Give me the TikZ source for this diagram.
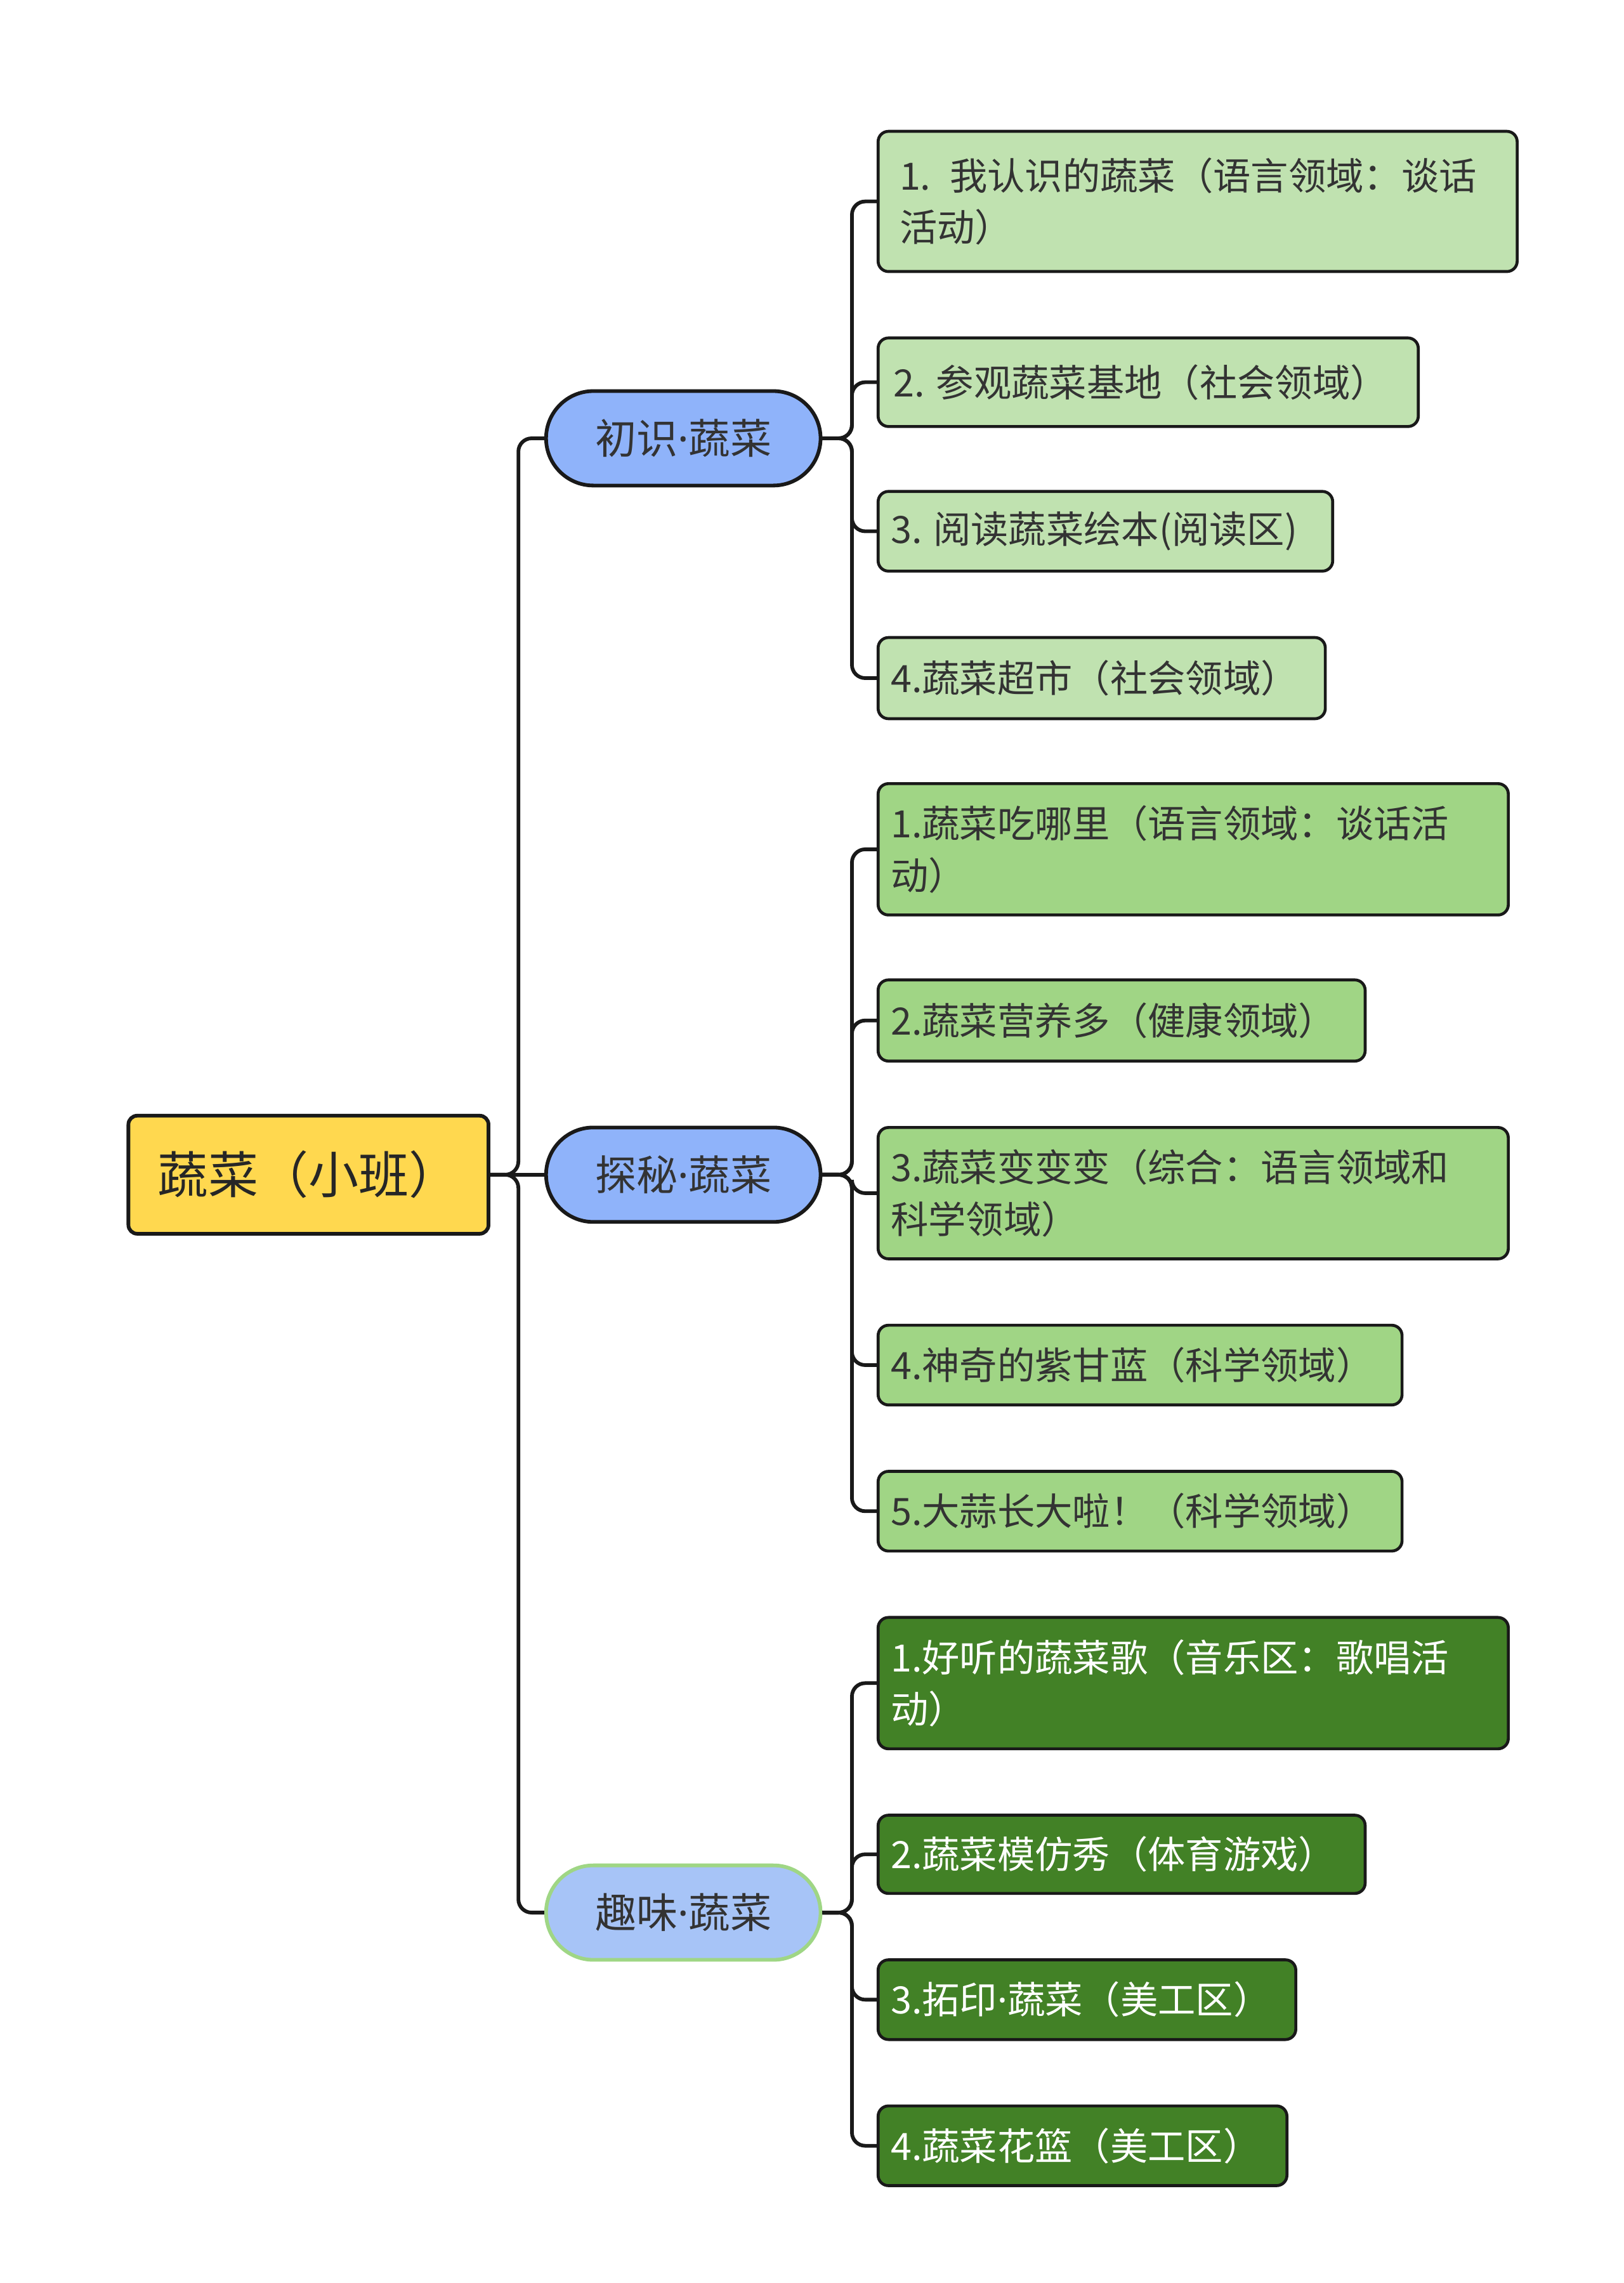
\documentclass[tikz,border=0pt]{standalone}
\usepackage{fontspec}
\setmainfont{Noto Sans CJK SC}
\newfontfamily\latf{Noto Sans}
\newcommand{\md}{{\latf ·}}
\begin{document}
\begin{tikzpicture}[x=1pt,y=-1pt,
  base/.style={draw=black!90,line width=2pt,rounded corners=7pt,anchor=north west,inner sep=0pt},
  la/.style={base,fill=lg1},
  lb/.style={base,fill=lg2},
  lc/.style={base,fill=lg3},
  tx/.style={anchor=west,align=left,font=\fontsize{25.5}{35}\selectfont,text=black!80},
  mid/.style={draw=black!90,line width=2.5pt,rounded corners=32pt,fill=bl1,minimum width=186pt,minimum height=64pt,inner sep=0pt,font=\fontsize{28}{32}\selectfont,text=black!80},
  con/.style={line width=2.5pt,rounded corners=9pt,draw=black!90}]
\definecolor{lg1}{HTML}{C0E2B0}
\definecolor{lg2}{HTML}{A0D585}
\definecolor{lg3}{HTML}{428126}
\definecolor{bl1}{HTML}{8FB3FA}
\definecolor{bl2}{HTML}{A7C4F7}
\definecolor{yel}{HTML}{FFD84F}
\definecolor{grb}{HTML}{9FD685}
\useasboundingbox (0,0) rectangle (1100,1547);
\node[draw=black!90,line width=2.5pt,rounded corners=6pt,fill=yel,minimum width=244pt,minimum height=80pt,font=\fontsize{34}{40}\selectfont,text=black!85] (r) at (209,796) {蔬菜（小班）};
\node[mid] (a) at (463,297) {初识\md 蔬菜};
\node[mid] (b) at (463,796) {探秘\md 蔬菜};
\node[mid,fill=bl2,draw=grb] (c) at (463,1296) {趣味\md 蔬菜};
\node[la,minimum width=433pt,minimum height=95pt] (a1) at (594,88) {};
\node[tx,text width=420pt] at ([xshift=12pt]a1.west) {1. 我认识的蔬菜（语言领域：谈话\\活动）};
\node[la,minimum width=366pt,minimum height=60pt] (a2) at (594,228) {};
\node[tx] at ([xshift=8pt]a2.west) {2. 参观蔬菜基地（社会领域）};
\node[la,minimum width=308pt,minimum height=54pt] (a3) at (594,332) {};
\node[tx] at ([xshift=6pt]a3.west) {3. 阅读蔬菜绘本(阅读区)};
\node[la,minimum width=303pt,minimum height=55pt] (a4) at (594,431) {};
\node[tx] at ([xshift=6pt]a4.west) {4.蔬菜超市（社会领域）};
\node[lb,minimum width=427pt,minimum height=89pt] (b1) at (594,530) {};
\node[tx,text width=420pt] at ([xshift=6pt]b1.west) {1.蔬菜吃哪里（语言领域：谈话活\\动）};
\node[lb,minimum width=330pt,minimum height=55pt] (b2) at (594,663) {};
\node[tx] at ([xshift=6pt]b2.west) {2.蔬菜营养多（健康领域）};
\node[lb,minimum width=427pt,minimum height=89pt] (b3) at (594,763) {};
\node[tx,text width=420pt] at ([xshift=6pt]b3.west) {3.蔬菜变变变（综合：语言领域和\\科学领域）};
\node[lb,minimum width=355pt,minimum height=54pt] (b4) at (594,897) {};
\node[tx] at ([xshift=6pt]b4.west) {4.神奇的紫甘蓝（科学领域）};
\node[lb,minimum width=355pt,minimum height=54pt] (b5) at (594,996) {};
\node[tx] at ([xshift=6pt]b5.west) {5.大蒜长大啦！（科学领域）};
\node[lc,minimum width=427pt,minimum height=89pt] (c1) at (594,1095) {};
\node[tx,text width=420pt,text=white] at ([xshift=6pt]c1.west) {1.好听的蔬菜歌（音乐区：歌唱活\\动）};
\node[lc,minimum width=330pt,minimum height=53pt] (c2) at (594,1229) {};
\node[tx,text=white] at ([xshift=6pt]c2.west) {2.蔬菜模仿秀（体育游戏）};
\node[lc,minimum width=283pt,minimum height=54pt] (c3) at (594,1327) {};
\node[tx,text=white] at ([xshift=6pt]c3.west) {3.拓印\md 蔬菜（美工区）};
\node[lc,minimum width=277pt,minimum height=54pt] (c4) at (594,1426) {};
\node[tx,text=white] at ([xshift=6pt]c4.west) {4.蔬菜花篮（美工区）};
\draw[con] (r.east) -- (b.west);
\foreach \t in {a,c} \draw[con] (r.east) -- ++(19,0) |- (\t.west);
\foreach \t in {a1,a2,a3,a4} \draw[con] (a.east) -- ++(20,0) |- (\t.west);
\foreach \t in {b1,b2,b3,b4,b5} \draw[con] (b.east) -- ++(20,0) |- (\t.west);
\foreach \t in {c1,c2,c3,c4} \draw[con] (c.east) -- ++(20,0) |- (\t.west);
\end{tikzpicture}
\end{document}
